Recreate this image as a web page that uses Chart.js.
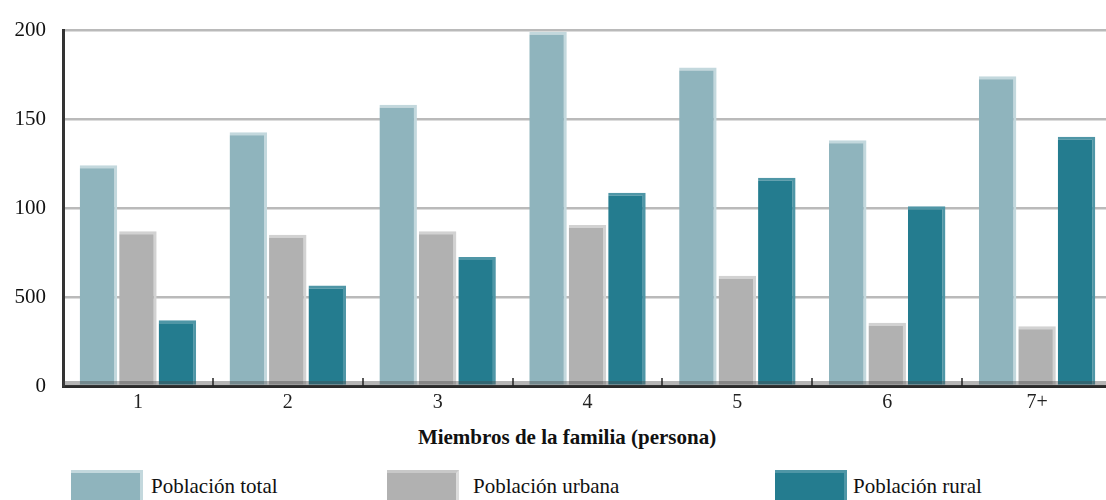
<!DOCTYPE html>
<html>
<head>
<meta charset="utf-8">
<script src="https://cdn.jsdelivr.net/npm/chart.js@4/dist/chart.umd.min.js"></script>
<style>
  html, body { margin: 0; padding: 0; background: #fff; }
  #wrap { position: relative; width: 1106px; height: 500px; overflow: hidden; }
  #box { position: absolute; left: 0; top: 0; width: 1120px; height: 420px; }
  .title { position: absolute; top: 425px; left: 0; width: 1134px; text-align: center;
           font: bold 21px "Liberation Serif", serif; color: #111; }
  .leg { position: absolute; top: 470px; height: 32px; }
  .leg span { position: absolute; left: 0; top: 0; width: 72px; height: 32px; box-sizing: border-box; }
  .leg b { position: absolute; top: 4px; white-space: nowrap; font: normal 21px "Liberation Serif", serif; color: #111; }
</style>
</head>
<body>
<div id="wrap">
  <div id="box"><canvas id="myChart"></canvas></div>
  <div class="title">Miembros de la familia (persona)</div>
  <div class="leg" style="left:71px"><span style="background:#8fb4bd;border-top:3px solid #c3d8dd;border-right:3px solid #c3d8dd"></span><b style="left:80px">Población total</b></div>
  <div class="leg" style="left:387px"><span style="background:#b1b1b1;border-top:3px solid #c8c8c8;border-right:3px solid #dcdcdc"></span><b style="left:86px">Población urbana</b></div>
  <div class="leg" style="left:775px"><span style="background:#247c8f;border-top:3px solid #4f96a6;border-right:3px solid #4f96a6"></span><b style="left:78px">Población rural</b></div>
</div>
<script>
// categories and values
const categories = ['1', '2', '3', '4', '5', '6', '7+'];
const totalPop = [1240, 1425, 1580, 1990, 1790, 1380, 1740];
const urbanPop = [870, 850, 870, 905, 620, 355, 335];
const ruralPop = [370, 565, 725, 1085, 1170, 1010, 1400];
const yTickValues = [0, 500, 1000, 1500, 2000];
const yTickLabels = ['0', '500', '100', '150', '200'];

const ctx = document.getElementById('myChart');

// small tick marks between the groups, sitting above the axis line
const axisMarks = {
  id: 'axisMarks',
  afterDatasetsDraw(chart) {
    const c = chart.ctx, a = chart.chartArea, x = chart.scales.x;
    c.save();
    c.fillStyle = 'rgba(70,70,70,0.4)';
    c.fillRect(a.left, a.bottom - 5, a.right - a.left, 5);
    c.strokeStyle = '#222';
    c.lineWidth = 1.5;
    for (let i = 1; i < categories.length; i++) {
      const px = Math.round((x.getPixelForValue(i - 1) + x.getPixelForValue(i)) / 2);
      c.beginPath();
      c.moveTo(px, a.bottom - 8);
      c.lineTo(px, a.bottom);
      c.stroke();
    }
    c.restore();
  }
};

const edge = { top: 3, right: 3, bottom: 0, left: 0 };

new Chart(ctx, {
  type: 'bar',
  data: {
    labels: categories,
    datasets: [
      { label: 'Población total', data: totalPop, backgroundColor: '#8fb4bd', borderColor: '#c3d8dd', borderWidth: edge, borderSkipped: false },
      { label: 'Población urbana', data: urbanPop, backgroundColor: '#b1b1b1', borderColor: '#d2d2d2', borderWidth: edge, borderSkipped: false },
      { label: 'Población rural', data: ruralPop, backgroundColor: '#247c8f', borderColor: '#4f96a6', borderWidth: edge, borderSkipped: false }
    ]
  },
  options: {
    responsive: true,
    maintainAspectRatio: false,
    animation: false,
    layout: { padding: { top: 30, right: 8, left: 0, bottom: 0 } },
    categoryPercentage: 0.79,
    barPercentage: 0.95,
    plugins: { legend: { display: false }, tooltip: { enabled: false } },
    scales: {
      x: {
        grid: { display: true, drawOnChartArea: false, drawTicks: false },
        border: { display: true, color: '#2a2a2a', width: 3 },
        ticks: { padding: 5, color: '#222', font: { family: 'Liberation Serif', size: 20 } },
        afterFit(scale) { scale.height = 34; }
      },
      y: {
        min: 0,
        max: 2000,
        afterBuildTicks(scale) { scale.ticks = yTickValues.map(v => ({ value: v })); },
        grid: { color: '#bababa', lineWidth: 2.5, drawTicks: false },
        border: { display: true, color: '#333', width: 3 },
        ticks: {
          padding: 17,
          color: '#111',
          font: { family: 'Liberation Serif', size: 21 },
          callback: (v) => yTickLabels[yTickValues.indexOf(v)]
        },
        afterFit(scale) { scale.width = 63; }
      }
    }
  },
  plugins: [axisMarks]
});
</script>
</body>
</html>
